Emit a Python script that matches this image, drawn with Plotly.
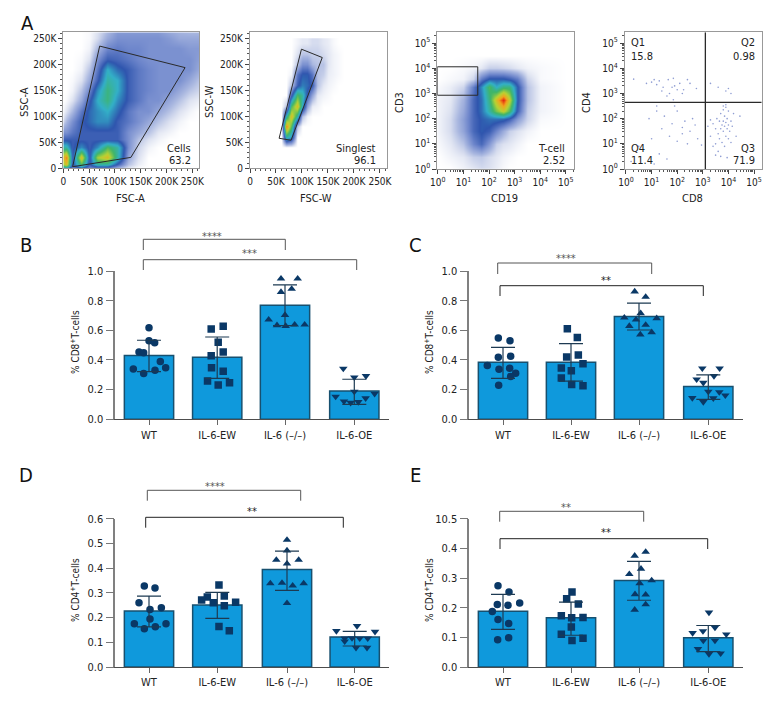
import numpy as np
import plotly.graph_objects as go

W, H = 780, 720
PAGE_MARGIN = 8
FONT = "DejaVu Sans Condensed, Roboto, sans-serif"
CATS = ["WT", "IL-6-EW", "IL-6 (–/–)", "IL-6-OE"]
BAR_FILL, BAR_EDGE, NAVY = "#0f99dc", "#17506f", "#0a3866"
JIT = 204.0

# ---- bar panel data
B_MEAN = [0.431, 0.418, 0.769, 0.191]
B_UP = [0.533, 0.555, 0.906, 0.270]
B_LOW = [0.321, 0.276, 0.632, 0.101]
B_WT = [.618, .530, .517, .454, .449, .389, .339, .348, .330, .308]
B_WT_DX = [0, 0, 17, -30, -16, 34, -47, 50, 18, -16]
B_EW = [.609, .627, .519, .429, .454, .348, .324, .258, .231, .247]
B_EW_DX = [-18, 18, 3, -18, 18, -17, 18, -29, 3, 37]
B_KO = [.948, .948, .858, .879, .703, .672, .634, .629, .638, .638]
B_KO_DX = [-12, 38, -12, 20, 0, -49, -24, 2, 29, 59]
B_OE = [.342, .283, .292, .187, .153, .173, .142, .121, .112, .117]
B_OE_DX = [-33, 0, 35, 0, -56, 61, 34, -31, -11, 12]

C_MEAN = [0.384, 0.384, 0.694, 0.222]
C_UP = [0.485, 0.510, 0.784, 0.299]
C_LOW = [0.276, 0.258, 0.602, 0.135]
C_WT = [.548, .530, .418, .425, .362, .337, .344, .310, .288, .229]
C_WT_DX = [-14, 21, -14, 23, -47, -12, 20, 38, 23, -13]
C_EW = [.611, .551, .420, .434, .375, .346, .328, .279, .234, .227]
C_EW_DX = [-11, 19, -13, 22, 36, -29, 1, -29, 2, 36]
C_KO = [.861, .825, .715, .685, .672, .681, .629, .636, .571, .587]
C_KO_DX = [-13, 20, 5, -44, -9, 53, -29, 20, 4, 38]
C_OE = [.344, .344, .270, .292, .247, .187, .184, .162, .144, .117, .142]
C_OE_DX = [-18, 34, -35, 17, -15, 0, 33, 51, -48, -15, 15]

D_MEAN = [0.227, 0.251, 0.394, 0.121]
D_UP = [0.287, 0.302, 0.469, 0.144]
D_LOW = [0.162, 0.197, 0.310, 0.085]
D_WT = [.328, .320, .260, .233, .240, .194, .175, .175, .163, .155]
D_WT_DX = [-14, 18, -30, 3, 37, 3, -44, 51, 19, -14]
D_EW = [.332, .283, .271, .260, .287, .248, .262, .164, .147]
D_EW_DX = [5, -30, -47, -12, 21, 21, 55, 5, 36]
D_KO = [.514, .471, .433, .433, .418, .338, .340, .329, .338, .258]
D_KO_DX = [0, 0, -32, 35, 0, -50, -15, 17, 50, 0]
D_OE = [.146, .166, .143, .116, .117, .116, .116, .104, .078, .078]
D_OE_DX = [-55, 7, 61, -30, -8, 15, 39, -30, 4, 37]

E_MEAN = [0.188, 0.166, 0.292, 0.099]
E_UP = [0.245, 0.219, 0.356, 0.140]
E_LOW = [0.127, 0.107, 0.225, 0.052]
E_WT = [.274, .253, .211, .208, .216, .187, .160, .147, .092, .099]
E_WT_DX = [-15, 18, -17, 15, 50, -32, -15, 17, -16, 17]
E_EW = [.253, .230, .212, .173, .166, .167, .135, .110, .097, .089]
E_EW_DX = [3, -13, 22, -29, 2, 36, 1, -29, 36, 3]
E_KO = [.388, .375, .331, .313, .292, .282, .245, .244, .211, .193]
E_KO_DX = [20, -13, 6, -29, 38, 2, -12, 20, 20, -13]
E_OE = [.184, .133, .115, .121, .110, .089, .089, .061, .044, .046]
E_OE_DX = [2, 20, -47, -16, 54, -15, 20, -31, 2, 37]

# ---- flow cytometry density estimates (0 empty .. 10 hottest)
A1_X = [0, 6, 18, 35, 50, 65, 85, 105, 125, 145, 165, 185, 205, 225, 245, 262]
A1_Y = [0, 8, 22, 40, 55, 70, 90, 110, 130, 150, 170, 190, 210, 230, 250, 262]
A1_Z = [
    [4, 4, 2, 3, 2, 2, 2, 1, .3, 0, 0, 0, 0, 0, 0, 0],
    [7, 8, 3, 6, 3, 5, 5, 3, 1, .3, 0, 0, 0, 0, 0, 0],
    [8, 9, 3, 8, 3, 7, 8, 5, 1.5, .5, 0, 0, 0, 0, 0, 0],
    [5, 5, 3, 4, 3, 4, 6, 5, 2, .7, .2, 0, 0, 0, 0, 0],
    [3, 3, 3, 3, 3, 3, 3, 3, 2, 1, .5, .2, 0, 0, 0, 0],
    [2, 2, 2.5, 3, 3, 3, 3, 3, 2, 1.5, 1, .4, .2, 0, 0, 0],
    [.7, 1.2, 2, 3, 3.5, 4, 4, 3, 2.5, 2, 1.5, 1, .5, .2, 0, 0],
    [.2, .5, 1.2, 2.5, 3.5, 4, 4.5, 3.5, 2.5, 2, 2, 1.5, 1, .5, .2, 0],
    [0, .1, .5, 1.5, 3, 4.5, 5.5, 4, 3, 2.5, 2, 2, 1.5, 1, .5, .3],
    [0, 0, .2, 1, 2.2, 4, 5.5, 4.5, 3, 2.5, 2.2, 2, 2, 1.5, 1, .7],
    [0, 0, .1, .5, 1.5, 3, 5, 4.5, 3, 2.5, 2.2, 2, 2, 2, 1.5, 1],
    [0, 0, 0, .2, 1, 2.5, 4.5, 3.5, 3, 2.5, 2.2, 2, 2, 2, 2, 1.5],
    [0, 0, 0, .1, .5, 2, 3, 2.8, 2.5, 2.2, 2, 2, 2, 2, 2, 1.7],
    [0, 0, 0, 0, .2, 1.2, 2.2, 2.4, 2.2, 2.2, 2, 2, 2, 2, 1.8, 1.8],
    [0, 0, 0, 0, .1, .6, 1.5, 2, 2, 2, 2, 2, 1.8, 1.5, 1.5, 1.5],
    [0, 0, 0, 0, .1, .5, 1.2, 1.8, 1.8, 1.8, 1.8, 1.8, 1.5, 1.3, 1.2, 1.2],
]
A2_X = [40, 50, 60, 70, 80, 90, 100, 110, 120, 130, 140, 150, 160, 170, 180]
A2_Y = [40, 60, 80, 100, 120, 140, 160, 180, 200, 220, 240]
A2_Z = [
    [0, 0, 0, 0, 0, 0, 0, 0, 0, 0, 0, 0, 0, 0, 0],
    [0, 0, 0, 5, 4, 0, 0, 0, 0, 0, 0, 0, 0, 0, 0],
    [0, 0, 0, 9, 6, 1, 0, 0, 0, 0, 0, 0, 0, 0, 0],
    [0, 0, 0, 5, 8, 5, 1, .2, 0, 0, 0, 0, 0, 0, 0],
    [0, 0, 0, 1, 6, 8, 4.5, 1.5, .3, .2, 0, 0, 0, 0, 0],
    [0, 0, 0, 0, 3, 6, 5, 3, 1.5, .4, .2, .1, 0, 0, 0],
    [0, 0, 0, 0, 1, 3, 3.8, 3.5, 3, 1, .4, .2, .1, 0, 0],
    [0, 0, 0, 0, .2, 2.5, 3.3, 3.3, 2.5, 1, .8, .3, .2, .1, 0],
    [0, 0, 0, 0, 0, 1, 2, 2, 1.2, 1, 1, .4, .2, .1, 0],
    [0, 0, 0, 0, 0, .5, 1, 1, .8, .8, .6, .4, .2, .1, 0],
    [0, 0, 0, 0, 0, .2, .4, .4, .6, .6, .4, .3, .1, 0, 0],
]
A3_X = [0, .5, 1, 1.4, 1.7, 2, 2.3, 2.55, 2.8, 3.1, 3.5, 4, 5]
A3_Y = [0, .5, 1, 1.5, 2, 2.3, 2.75, 3.25, 3.6, 4, 4.5, 5]
A3_Z = [
    [0, 0, .2, .4, .6, .5, .3, .1, 0, 0, 0, 0, 0],
    [0, .2, .4, .8, .9, .6, .4, .2, .1, 0, 0, 0, 0],
    [.1, .4, 1, 2.2, 2.8, 1.8, .8, .5, .4, .2, 0, 0, 0],
    [.2, .6, 1.6, 2.8, 3.3, 3, 2.2, 1.4, .8, .5, .2, 0, 0],
    [.2, .6, 1.7, 2.8, 3.3, 3.6, 3.6, 3.5, 3, 1.8, .7, .1, 0],
    [.2, .5, 1.5, 2.8, 3.6, 5, 6.5, 7.5, 6, 3, .8, .2, 0],
    [.2, .4, 1.3, 2.8, 3.6, 5.5, 8, 10, 7.5, 3.3, 1, .2, 0],
    [.1, .3, .7, 2.4, 4, 6, 4.5, 5.5, 5.5, 3.3, 1, .2, 0],
    [0, .1, .2, .7, 2.4, 3.3, 3.3, 3.3, 3, 2.4, .7, .1, 0],
    [0, 0, .1, .2, .4, .8, .8, .7, .6, .4, .2, .1, 0],
    [0, 0, 0, 0, 0, 0, 0, 0, 0, 0, 0, 0, 0],
    [0, 0, 0, 0, 0, 0, 0, 0, 0, 0, 0, 0, 0],
]
A4_X = [.3, .8, 1.1, 1.2, 1.45, 1.3, 1.65, 1.85, 1.9, 2.1, 2.4, 2.5, 2.25, 1.7, 1.6, 1.85, 2.75, 1.0, 1.4, 2.0, 2.2, 1.8,
        3.3, 3.6, 3.9, 4.0, 4.1,
        3.2, 3.3, 3.4, 3.5, 3.5, 3.55, 3.6, 3.65, 3.65, 3.7, 3.7, 3.75, 3.75, 3.8, 3.8, 3.8, 3.85, 3.85, 3.9, 3.9, 3.9, 3.95, 3.95, 4.0, 4.0, 4.0, 4.05, 4.1, 4.1, 4.15, 4.2, 3.6, 3.7, 3.85, 3.95, 3.8, 3.9, 3.4, 3.5, 3.3, 4.3, 4.45,
        .9, 1.2, 1.5, 2.0, 2.3, 2.6, 1.0, 1.4, 1.8, 2.2, 2.5, 1.3, 1.7, 2.0, 2.4, 2.8, 1.2, 1.9, 2.2, .5, .2, 2.95, 1.1, 1.6, 2.7]
A4_Y = [3.57, 3.4, 3.55, 3.35, 3.25, 3.5, 3.55, 3.6, 3.3, 3.4, 3.55, 3.4, 3.15, 3.0, 2.9, 2.75, 3.2, 3.45, 3.1, 3.15, 3.0, 3.25,
        3.4, 3.25, 3.1, 3.2, 3.0,
        1.7, 1.3, 1.8, 1.6, 1.0, 2.0, 1.4, 1.9, 1.2, 2.2, 1.6, 1.75, 1.05, 2.35, 1.9, 1.5, 2.1, 1.7, 2.45, 1.85, 1.3, 2.0, 1.6, 2.3, 1.75, 1.2, 1.5, 1.9, 1.05, 1.7, 2.2, .7, .5, .9, .45, 2.5, 2.55, .9, .55, 1.95, 1.3, 2.1,
        2.0, 2.3, 2.1, 2.3, 1.9, 2.0, 1.2, 1.6, 1.8, 1.4, 1.5, .6, 1.3, 1.1, 1.0, 1.2, 2.5, 2.5, 1.65, .9, .3, .95, .2, .4, 1.75]

LIN_TICKS = [0, 50, 100, 150, 200, 250]
LIN_LABELS = ["0", "50K", "100K", "150K", "200K", "250K"]
LOG_TICKS = [0, 1, 2, 3, 4, 5]
LOG_LABELS = ["10<sup>%d</sup>" % k for k in LOG_TICKS]

SCALE = [[0, "#ffffff"], [.05, "#dde2f1"], [.12, "#a9b7e0"], [.22, "#6f87cc"], [.32, "#2f55ae"],
         [.45, "#33b0c8"], [.58, "#3fb56a"], [.72, "#b7d334"], [.86, "#f2a51e"], [1, "#e2200f"]]

fig = go.Figure()
FW, FH = W - 2 * PAGE_MARGIN, H - 2 * PAGE_MARGIN
layout = dict(width=FW, height=FH, margin=dict(l=0, r=0, t=0, b=0, autoexpand=False), paper_bgcolor="white", plot_bgcolor="white",
              showlegend=False, font=dict(family=FONT, size=12, color="#222222"))
shapes, notes = [], []


def px(x):
    return (x - PAGE_MARGIN) / FW


def py(y):
    return 1 - (y - PAGE_MARGIN) / FH


def note(x, y, text, size=11, color="#222222", anchor="center", angle=0):
    notes.append(dict(text=text, x=px(x), y=py(y), xref="paper", yref="paper", showarrow=False, xanchor=anchor,
                      yanchor="middle", textangle=angle, font=dict(family=FONT, size=size, color=color)))


axis_n = [0]


def new_axes(l, r, t, b):
    axis_n[0] += 1
    k = axis_n[0]
    sx, sy = ("x", "y") if k == 1 else (f"x{k}", f"y{k}")
    kx, ky = ("xaxis", "yaxis") if k == 1 else (f"xaxis{k}", f"yaxis{k}")
    layout[kx] = dict(domain=[px(l), px(r)], anchor=sy, tickangle=0, automargin=False)
    layout[ky] = dict(domain=[py(b), py(t)], anchor=sx, automargin=False)
    return sx, sy, kx, ky


def flow(l, r, t, b, xr, yr, ticks, labels, minor):
    sx, sy, kx, ky = new_axes(l, r, t, b)
    for key, rng in ((kx, xr), (ky, yr)):
        layout[key].update(range=rng, tickvals=ticks, ticktext=labels, ticks="outside", ticklen=4, tickcolor="#444",
                           showline=True, mirror=True, linecolor="#999999", linewidth=1, showgrid=False, zeroline=False,
                           tickfont=dict(family=FONT, size=10, color="#222222"),
                           minor=dict(tickvals=minor, ticks="outside", ticklen=2, tickcolor="#555", showgrid=False))
    return sx, sy


def gate(sx, sy, path):
    shapes.append(dict(type="path", path=path, xref=sx, yref=sy, line=dict(color="#2a2a2a", width=1), fillcolor="rgba(0,0,0,0)"))


lin_minor = list(range(0, 261, 10))
log_minor = [d + float(np.log10(m)) for d in range(0, 6) for m in range(2, 10) if d + np.log10(m) < 5.35]

# A1
sx, sy = flow(63.3, 199, 32.3, 168.3, [0, 263], [0, 261.5], LIN_TICKS, LIN_LABELS, lin_minor)
fig.add_heatmap(x=A1_X, y=A1_Y, z=A1_Z, xaxis=sx, yaxis=sy, zmin=0, zmax=10, colorscale=SCALE, showscale=False, zsmooth="best")
gate(sx, sy, "M 18 3 L 70.5 235 L 236 193.6 L 131 21 Z")
# A2
sx, sy = flow(250, 386.7, 32.3, 168.3, [0, 263], [0, 261.5], LIN_TICKS, LIN_LABELS, lin_minor)
fig.add_heatmap(x=A2_X, y=A2_Y, z=A2_Z, xaxis=sx, yaxis=sy, zmin=0, zmax=10, colorscale=SCALE, showscale=False, zsmooth="best")
gate(sx, sy, "M 56 57.7 L 79 54 L 139 213 L 99 229 Z")
# A3
sx, sy = flow(437.3, 574.3, 32.3, 169, [-.02, 5.33], [0, 5.43], LOG_TICKS, LOG_LABELS, log_minor)
fig.add_heatmap(x=A3_X, y=A3_Y, z=A3_Z, xaxis=sx, yaxis=sy, zmin=0, zmax=10, colorscale=SCALE, showscale=False, zsmooth="best")
gate(sx, sy, "M -.02 2.93 L 1.56 2.93 L 1.56 4.06 L -.02 4.06 Z")
# A4
sx, sy = flow(624.7, 761.7, 32.3, 169, [-.05, 5.3], [0, 5.43], LOG_TICKS, LOG_LABELS, log_minor)
fig.add_scatter(x=A4_X, y=A4_Y, xaxis=sx, yaxis=sy, mode="markers", marker=dict(size=1.6, color="#5f74c0", opacity=.7))
shapes.append(dict(type="line", x0=3.1, x1=3.1, y0=0, y1=5.43, xref=sx, yref=sy, line=dict(color="#2a2a2a", width=1.3)))
shapes.append(dict(type="line", x0=-.05, x1=5.3, y0=2.65, y1=2.65, xref=sx, yref=sy, line=dict(color="#2a2a2a", width=1.3)))

for x, y, t, a in [(130, 199, "FSC-A", 0), (24, 102, "SSC-A", -90), (316, 199, "FSC-W", 0), (209, 102, "SSC-W", -90),
                   (504, 199, "CD19", 0), (399, 103, "CD3", -90), (692, 199, "CD8", 0), (586, 103, "CD4", -90)]:
    note(x, y, t, size=11, angle=a)
for x, y, t, an in [(193, 148, "Cells", "right"), (193, 161, "63.2", "right"), (378, 148, "Singlest", "right"),
                    (378, 161, "96.1", "right"), (567, 148, "T-cell", "right"), (567, 161, "2.52", "right"),
                    (629, 43, "Q1", "left"), (629, 57, "15.8", "left"), (757, 43, "Q2", "right"), (757, 57, "0.98", "right"),
                    (629, 148, "Q4", "left"), (629, 161, "11.4", "left"), (757, 148, "Q3", "right"), (757, 161, "71.9", "right")]:
    note(x, y, t, size=11, anchor=an)
for x, y, t in [(27, 23, "A"), (26, 245, "B"), (415, 245, "C"), (26, 475, "D"), (415, 475, "E")]:
    note(x, y, t, size=20, color="#111111")


def bars(l, r, t, b, centers, top, ticks, labels, mean, up, low, groups, ytitle_x, ytitle_y, ytitle, brackets):
    sx, sy, kx, ky = new_axes(l, r, t, b)
    c0, step = centers[0], 68.0
    pos = [(c - c0) / step for c in centers]
    layout[kx].update(range=[(l - c0) / step, (r - c0) / step], tickvals=pos, ticktext=CATS, ticks="outside", ticklen=5,
                      tickcolor="#666", tickwidth=1, showline=True, linecolor="#4d4d4d", linewidth=1.2, showgrid=False,
                      zeroline=False, tickfont=dict(family=FONT, size=11, color="#222222"))
    layout[ky].update(range=[0, top], tickvals=ticks, ticktext=labels, ticks="outside", ticklen=8, tickcolor="#777",
                      tickwidth=1, showline=True, linecolor="#808080", linewidth=1.6, showgrid=False, zeroline=False,
                      tickfont=dict(family=FONT, size=11, color="#222222"))
    fig.add_bar(x=pos, y=mean, xaxis=sx, yaxis=sy, width=.725, marker=dict(color=BAR_FILL, line=dict(color=BAR_EDGE, width=1.5)))
    symbols = ["circle", "square", "triangle-up", "triangle-down"]
    for i, (vals, dx) in enumerate(groups):
        fig.add_scatter(x=[pos[i] + d / JIT for d in dx], y=vals, xaxis=sx, yaxis=sy, mode="markers",
                        marker=dict(symbol=symbols[i], size=7.5, color=NAVY, line=dict(width=0)))
    fig.add_scatter(x=pos, y=mean, xaxis=sx, yaxis=sy, mode="markers", marker=dict(size=1, opacity=0),
                    error_y=dict(type="data", symmetric=False, array=[u - m for u, m in zip(up, mean)],
                                 arrayminus=[m - v for m, v in zip(mean, low)], color="#1d3a52", thickness=1.2, width=12))
    note(ytitle_x, ytitle_y, ytitle, size=10, angle=-90)
    for xa, xb, yb, leg, tx, ty, stars, col in brackets:
        shapes.append(dict(type="path", path=f"M {px(xa)} {py(leg)} L {px(xa)} {py(yb)} L {px(xb)} {py(yb)} L {px(xb)} {py(leg)}",
                           xref="paper", yref="paper", line=dict(color=col, width=1), fillcolor="rgba(0,0,0,0)"))
        note(tx, ty, stars, size=11, color=col)


bars(115.3, 389, 271, 419.3, [149, 217.2, 285, 354.3], 1.0, [0, .2, .4, .6, .8, 1], ["0.0", "0.2", "0.4", "0.6", "0.8", "1.0"],
     B_MEAN, B_UP, B_LOW, [(B_WT, B_WT_DX), (B_EW, B_EW_DX), (B_KO, B_KO_DX), (B_OE, B_OE_DX)],
     75, 342, "% CD8<sup>+</sup>T-cells",
     [(143.3, 285.3, 239.3, 250, 212, 236, "****", "#555555"), (143.3, 356.7, 259.7, 270, 250, 254, "***", "#555555")])
bars(469.3, 742.7, 271, 419.3, [503, 571, 639, 708.3], 1.0, [0, .2, .4, .6, .8, 1], ["0.0", "0.2", "0.4", "0.6", "0.8", "1.0"],
     C_MEAN, C_UP, C_LOW, [(C_WT, C_WT_DX), (C_EW, C_EW_DX), (C_KO, C_KO_DX), (C_OE, C_OE_DX)],
     429, 342, "% CD8<sup>+</sup>T-cells",
     [(497.7, 651.7, 263, 274, 566, 259, "****", "#555555"), (500, 703.3, 285.7, 296, 606, 280, "**", "#222222")])
bars(115.3, 389, 518.7, 667, [149, 217.3, 287, 354.7], .6, [0, .1, .2, .3, .4, .5, .6], ["0.0", "0.1", "0.2", "0.3", "0.4", "0.5", "0.6"],
     D_MEAN, D_UP, D_LOW, [(D_WT, D_WT_DX), (D_EW, D_EW_DX), (D_KO, D_KO_DX), (D_OE, D_OE_DX)],
     75, 590, "% CD4<sup>+</sup>T-cells",
     [(147.3, 300.7, 490.3, 500.7, 215, 486, "****", "#555555"), (145.7, 343.3, 517.3, 527.7, 252, 511, "**", "#222222")])
bars(469.3, 742.7, 518.7, 667, [503, 571, 639, 708.3], .5, [0, .1, .2, .3, .4, .5], ["0.0", "0.1", "0.2", "0.3", "0.4", "10.5"],
     E_MEAN, E_UP, E_LOW, [(E_WT, E_WT_DX), (E_EW, E_EW_DX), (E_KO, E_KO_DX), (E_OE, E_OE_DX)],
     429, 590, "% CD4<sup>+</sup>T-cells",
     [(499.7, 643.7, 511.3, 521.7, 566, 507, "**", "#555555"), (500, 707.7, 538.7, 549, 606, 532, "**", "#222222")])

layout["shapes"] = shapes
layout["annotations"] = notes
fig.update_layout(**layout)
fig.write_html("out.html", config={"displayModeBar": False})
